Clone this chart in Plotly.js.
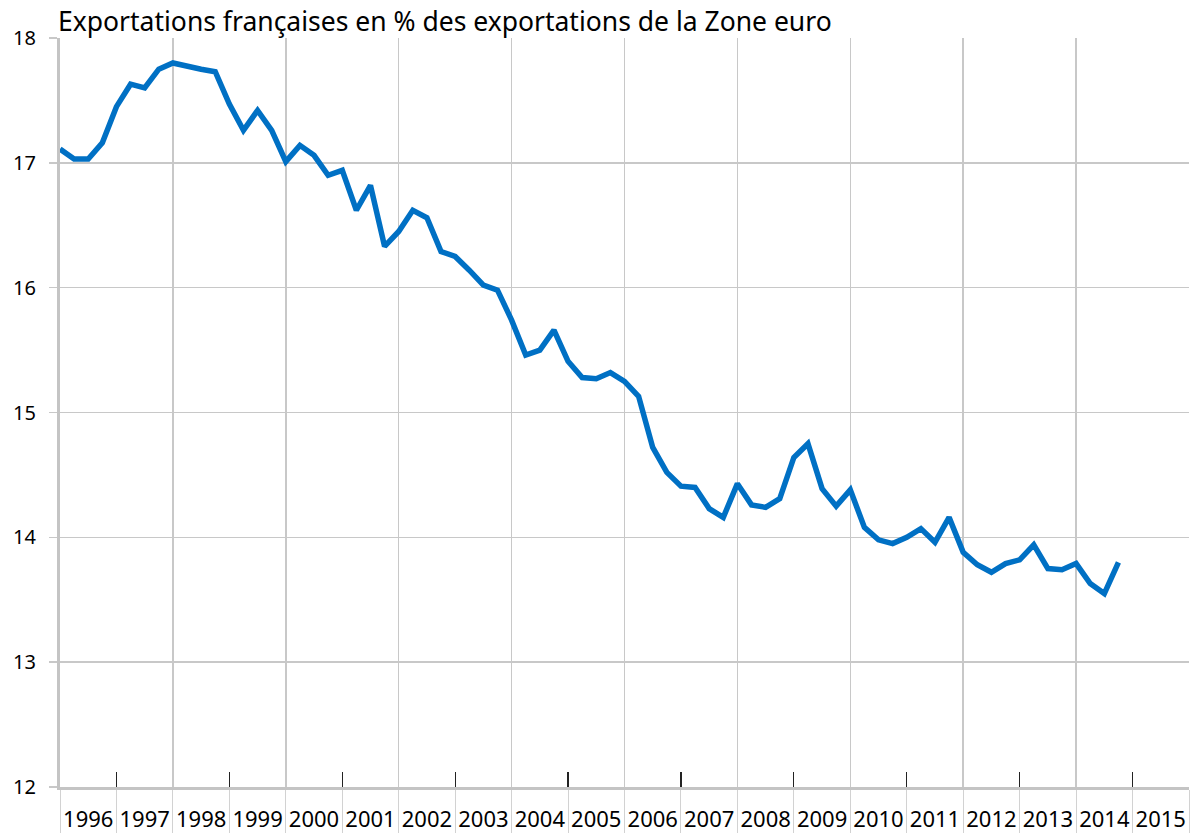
<!DOCTYPE html>
<html>
<head>
<meta charset="utf-8">
<script src="https://cdn.plot.ly/plotly-3.0.1.min.js"></script>
<style>html,body{margin:0;padding:0;background:#fff;}#chart{width:1191px;height:833px;}</style>
</head>
<body>
<div id="chart"></div>
<script>
// Quarterly data, 1996 T1 to 2014 T4
const quarterLabels = [];
for (let y = 1996; y <= 2014; y++) for (let q = 1; q <= 4; q++) quarterLabels.push(y + "T" + q);

const frenchShare = [
  17.11, 17.03, 17.03, 17.16, 17.45, 17.63, 17.60, 17.75,
  17.80, 17.77, 17.75, 17.73, 17.47, 17.26, 17.42, 17.26,
  17.01, 17.14, 17.06, 16.90, 16.94, 16.62, 16.82, 16.33,
  16.45, 16.62, 16.56, 16.29, 16.25, 16.14, 16.02, 15.98,
  15.74, 15.46, 15.50, 15.66, 15.41, 15.28, 15.27, 15.32,
  15.25, 15.13, 14.72, 14.52, 14.41, 14.40, 14.23, 14.16,
  14.43, 14.26, 14.24, 14.31, 14.64, 14.75, 14.39, 14.25,
  14.38, 14.08, 13.98, 13.95, 14.00, 14.07, 13.96, 14.16,
  13.88, 13.78, 13.72, 13.79, 13.82, 13.94, 13.75, 13.74,
  13.79, 13.63, 13.55, 13.80
];

const yearLabels = ["1996","1997","1998","1999","2000","2001","2002","2003","2004","2005",
                    "2006","2007","2008","2009","2010","2011","2012","2013","2014","2015"];
const yTicks = [12, 13, 14, 15, 16, 17, 18];

const xRange = [1996, 2016];
const yRange = [12, 18];

const xVals = quarterLabels.map(function (s) {
  const parts = s.split("T");
  return Number(parts[0]) + (Number(parts[1]) - 1) / 4;
});

const yearNums = yearLabels.map(Number);
const allBounds = yearNums.concat([yearNums[yearNums.length - 1] + 1]);
const evenBounds = allBounds.filter(function (v) { return v % 2 === 0; });
const oddBounds = allBounds.filter(function (v) { return v % 2 === 1; });
const labelPos = yearNums.map(function (v) { return v + 0.5; });

const FONT = "'Noto Sans', 'Open Sans', sans-serif";

function helper(axisName) {
  return {
    type: "scatter", mode: "lines", x: xRange, y: yRange,
    xaxis: axisName, yaxis: "y",
    line: { width: 0, color: "rgba(0,0,0,0)" }, opacity: 0,
    hoverinfo: "skip", showlegend: false
  };
}

const traces = [
  helper("x2"), helper("x3"), helper("x4"),
  {
    type: "scatter",
    mode: "lines",
    x: xVals,
    y: frenchShare,
    text: quarterLabels,
    line: { color: "#0070c4", width: 5.5 },
    hoverinfo: "text+y",
    showlegend: false
  }
];

const baseX = {
  range: xRange, fixedrange: true, zeroline: false, showticklabels: false
};

const layout = {
  width: 1191, height: 833,
  margin: { l: 60, r: 2, t: 38, b: 46, pad: 0 },
  paper_bgcolor: "#ffffff",
  plot_bgcolor: "#ffffff",
  font: { family: FONT, color: "#000000", size: 19 },
  showlegend: false,
  title: {
    text: "Exportations françaises en % des exportations de la Zone euro",
    font: { family: FONT, size: 26.5, color: "#000000" },
    x: 58 / 1191, xref: "container", xanchor: "left",
    y: 1 - 22 / 833, yref: "container", yanchor: "middle"
  },
  xaxis: Object.assign({}, baseX, {
    tickmode: "array", tickvals: allBounds,
    ticks: "outside", ticklen: 46, tickwidth: 1, tickcolor: "#d2d2d2",
    showgrid: false,
    showline: true, linecolor: "#c4c4c4", linewidth: 3
  }),
  xaxis2: Object.assign({}, baseX, {
    overlaying: "x", anchor: "y",
    tickmode: "array", tickvals: evenBounds,
    ticks: "", showgrid: true, gridcolor: "#c8c8c8", gridwidth: 1.5,
    showline: false
  }),
  xaxis3: Object.assign({}, baseX, {
    overlaying: "x", anchor: "y",
    tickmode: "array", tickvals: oddBounds,
    ticks: "inside", ticklen: 15, tickwidth: 1.3, tickcolor: "#222222",
    showgrid: false, showline: false
  }),
  xaxis4: Object.assign({}, baseX, {
    overlaying: "x", anchor: "y",
    tickmode: "array", tickvals: labelPos, ticktext: yearLabels,
    showticklabels: true, ticks: "", ticklabelstandoff: 17,
    tickfont: { family: FONT, size: 22, color: "#000000" },
    showgrid: false, showline: false
  }),
  yaxis: {
    range: yRange, fixedrange: true,
    tickmode: "array", tickvals: yTicks,
    ticks: "outside", ticklen: 8, tickwidth: 1.5, tickcolor: "#c8c8c8",
    ticklabelstandoff: 9,
    tickfont: { family: FONT, size: 20, color: "#000000" },
    showgrid: true, gridcolor: "#c8c8c8", gridwidth: 1.5,
    zeroline: false,
    showline: true, linecolor: "#c4c4c4", linewidth: 3
  }
};

Plotly.newPlot("chart", traces, layout, { displayModeBar: false, staticPlot: true });
</script>
</body>
</html>
